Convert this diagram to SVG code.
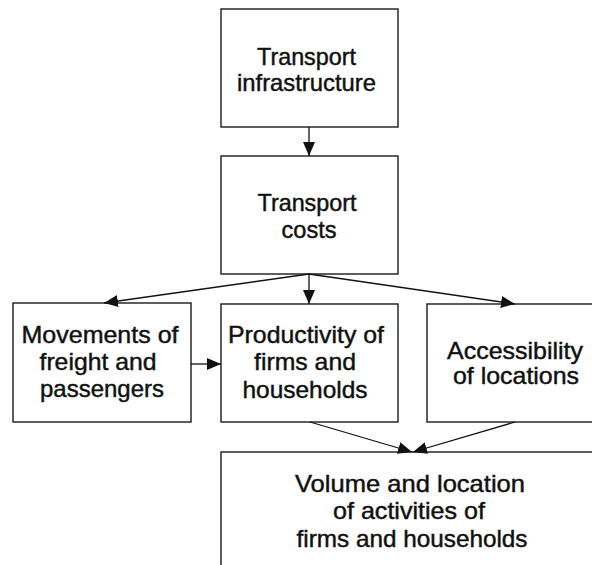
<svg xmlns="http://www.w3.org/2000/svg" width="592" height="565" viewBox="0 0 592 565">
  <style>
    .box { fill: #ffffff; stroke: #1a1a1a; stroke-width: 1.4; }
    .lbl { font-family: "Liberation Sans", Arial, sans-serif; font-size: 24px; fill: #111111; stroke: #111111; stroke-width: 0.45; text-anchor: middle; }
    .edge { fill: none; stroke: #111111; stroke-width: 1.3; marker-end: url(#arrow); }
  </style>
  <defs>
    <marker id="arrow" viewBox="0 0 14 12" refX="14" refY="6" markerWidth="14" markerHeight="12" markerUnits="userSpaceOnUse" orient="auto">
      <path d="M0,0 L14,6 L0,12 z" fill="#111111"/>
    </marker>
  </defs>

  <rect width="592" height="565" fill="#ffffff"/>

  <g id="transport-infrastructure">
    <rect class="box" x="221" y="9" width="177" height="118"/>
    <text class="lbl" x="306.5" y="65" textLength="99" lengthAdjust="spacingAndGlyphs">Transport</text>
    <text class="lbl" x="306.5" y="91" textLength="139" lengthAdjust="spacingAndGlyphs">infrastructure</text>
  </g>

  <g id="transport-costs">
    <rect class="box" x="221" y="156" width="177" height="118"/>
    <text class="lbl" x="307" y="211" textLength="99" lengthAdjust="spacingAndGlyphs">Transport</text>
    <text class="lbl" x="309" y="238" textLength="55" lengthAdjust="spacingAndGlyphs">costs</text>
  </g>

  <g id="movements">
    <rect class="box" x="13" y="303" width="178" height="119"/>
    <text class="lbl" x="100" y="343" textLength="157" lengthAdjust="spacingAndGlyphs">Movements of</text>
    <text class="lbl" x="98" y="370" textLength="117" lengthAdjust="spacingAndGlyphs">freight and</text>
    <text class="lbl" x="102" y="397" textLength="124" lengthAdjust="spacingAndGlyphs">passengers</text>
  </g>

  <g id="productivity">
    <rect class="box" x="221" y="304" width="177" height="118"/>
    <text class="lbl" x="306" y="343" textLength="156" lengthAdjust="spacingAndGlyphs">Productivity of</text>
    <text class="lbl" x="305" y="370" textLength="102" lengthAdjust="spacingAndGlyphs">firms and</text>
    <text class="lbl" x="305" y="398" textLength="125" lengthAdjust="spacingAndGlyphs">households</text>
  </g>

  <g id="accessibility">
    <rect class="box" x="427" y="304" width="176" height="118"/>
    <text class="lbl" x="515" y="359" textLength="136" lengthAdjust="spacingAndGlyphs">Accessibility</text>
    <text class="lbl" x="516" y="384" textLength="126" lengthAdjust="spacingAndGlyphs">of locations</text>
  </g>

  <g id="volume-location">
    <rect class="box" x="221" y="452" width="380" height="130"/>
    <text class="lbl" x="410" y="492" textLength="230" lengthAdjust="spacingAndGlyphs">Volume and location</text>
    <text class="lbl" x="409" y="519" textLength="152" lengthAdjust="spacingAndGlyphs">of activities of</text>
    <text class="lbl" x="412" y="547" textLength="231" lengthAdjust="spacingAndGlyphs">firms and households</text>
  </g>

  <g id="connectors">
    <line class="edge" x1="309" y1="127" x2="309" y2="156"/>
    <line class="edge" x1="309" y1="274" x2="104" y2="303"/>
    <line class="edge" x1="309" y1="274" x2="309" y2="304"/>
    <line class="edge" x1="309" y1="274" x2="515" y2="304"/>
    <line class="edge" x1="191" y1="364" x2="221" y2="364"/>
    <line class="edge" x1="310" y1="422" x2="412" y2="452"/>
    <line class="edge" x1="515" y1="422" x2="413" y2="452"/>
  </g>
</svg>
